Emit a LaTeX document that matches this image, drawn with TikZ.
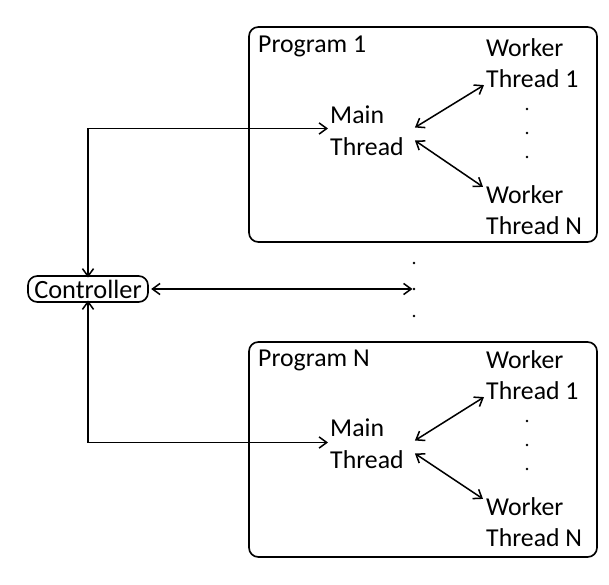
\documentclass[tikz,border=0pt]{standalone}
\usepackage{fontspec}
\setmainfont{Carlito}
\usetikzlibrary{calc,arrows.meta,positioning}

\tikzset{
  txt/.style={inner sep=0pt,align=left,anchor=west,font=\fontsize{22}{27}\selectfont},
  progbox/.style={draw,line width=1.4pt,rounded corners=8pt,minimum width=10.44cm,minimum height=6.45cm,inner sep=0pt},
  ctlbox/.style={draw,line width=1.4pt,rounded corners=8pt,inner sep=0pt,minimum width=3.6cm,minimum height=0.78cm,font=\fontsize{22.5}{27}\selectfont},
  link/.style={line width=1.3pt,{Straight Barb[length=6.5pt,width=9.5pt]}-{Straight Barb[length=6.5pt,width=9.5pt]}},
  dot/.style={circle,fill,inner sep=0pt,minimum size=2.2pt}
}

\begin{document}
\begin{tikzpicture}[x=0.03cm,y=-0.03cm]
\useasboundingbox (0,0) rectangle (609,585);
% program boxes
\node[progbox] (p1) at (423,134.5) {};
\node[progbox] (pn) at (423,449.5) {};
\node[txt] (l1) at (258,46) {Program 1};
\node[txt] (ln) at (258,360) {Program N};
% threads in program 1
\node[txt] (m1) at (330,130.5) {Main\\Thread};
\node[txt] (w11) at (486,63) {Worker\\Thread 1};
\node[txt] (w1n) at (486,210) {Worker\\Thread N};
\foreach \y [count=\i] in {109,133,157} \node[dot] (d1\i) at (527,\y) {};
% threads in program N
\node[txt] (mn) at (330,443.5) {Main\\Thread};
\node[txt] (wn1) at (486,375) {Worker\\Thread 1};
\node[txt] (wnn) at (486,522) {Worker\\Thread N};
\foreach \y [count=\i] in {421,445,469} \node[dot] (dn\i) at (527,\y) {};
% controller and dots between programs
\node[ctlbox] (ctl) at (88,289) {Controller};
\foreach \y [count=\i] in {263,289,316} \node[dot] (dm\i) at (414,\y) {};
% links
\draw[link] ([yshift=-2]ctl.north) |- ([shift={(-2,-2)}]m1.west);
\draw[link] ([yshift=2]ctl.south) |- ([shift={(-2,-1)}]mn.west);
\draw[link] ([xshift=2]ctl.east) -- (dm2.west);
\draw[link] ([shift={(11,-3)}]m1.east) -- ([shift={(-2,-3)}]w11.south west);
\draw[link] ([shift={(11,10)}]m1.east) -- ([shift={(-3,2)}]w1n.north west);
\draw[link] ([shift={(11,-3)}]mn.east) -- ([shift={(-2,-3)}]wn1.south west);
\draw[link] ([shift={(11,10)}]mn.east) -- ([shift={(-3,2)}]wnn.north west);
\end{tikzpicture}
\end{document}
